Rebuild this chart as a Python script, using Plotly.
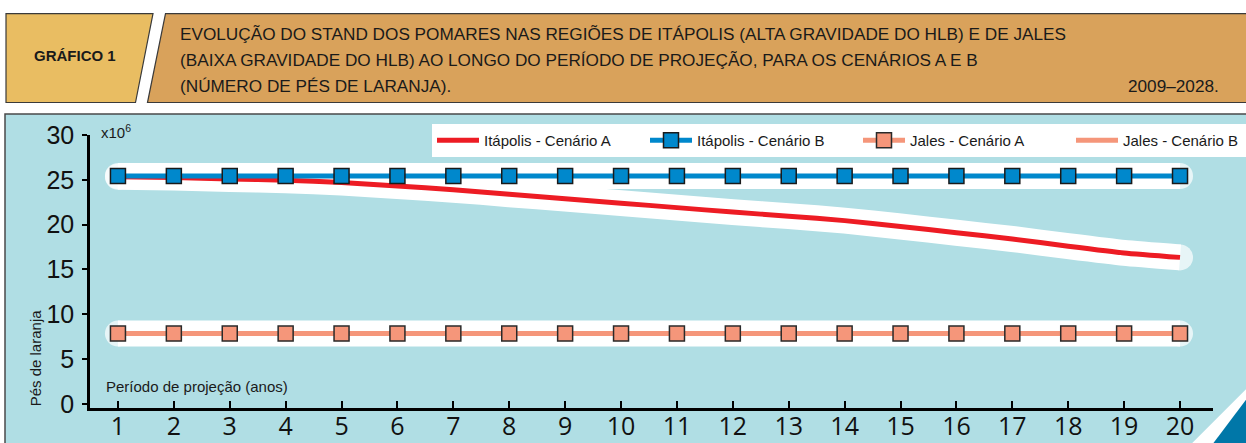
import plotly.graph_objects as go

# ---------------- data ----------------
periods = [1, 2, 3, 4, 5, 6, 7, 8, 9, 10, 11, 12, 13, 14, 15, 16, 17, 18, 19, 20]
itapolis_a = [25.35, 25.25, 25.1, 24.95, 24.7, 24.3, 23.9, 23.4, 22.9, 22.4,
              21.9, 21.4, 20.95, 20.45, 19.8, 19.1, 18.4, 17.6, 16.85, 16.35]
itapolis_b = [25.42, 25.42, 25.42, 25.42, 25.42, 25.42, 25.42, 25.42, 25.42, 25.42,
              25.42, 25.42, 25.42, 25.42, 25.42, 25.42, 25.42, 25.42, 25.42, 25.42]
jales_a = [7.85, 7.85, 7.85, 7.85, 7.85, 7.85, 7.85, 7.85, 7.85, 7.85,
           7.85, 7.85, 7.85, 7.85, 7.85, 7.85, 7.85, 7.85, 7.85, 7.85]
jales_b = [7.85, 7.85, 7.85, 7.85, 7.85, 7.85, 7.85, 7.85, 7.85, 7.85,
           7.85, 7.85, 7.85, 7.85, 7.85, 7.85, 7.85, 7.85, 7.85, 7.85]
y_ticks = [0, 5, 10, 15, 20, 25, 30]

names = ["Itápolis - Cenário A", "Itápolis - Cenário B", "Jales - Cenário A", "Jales - Cenário B"]

title_lines = [
    "EVOLUÇÃO DO STAND DOS POMARES NAS REGIÕES DE ITÁPOLIS (ALTA GRAVIDADE DO HLB) E DE JALES",
    "(BAIXA GRAVIDADE DO HLB) AO LONGO DO PERÍODO DE PROJEÇÃO, PARA OS CENÁRIOS A E B",
    "(NÚMERO DE PÉS DE LARANJA).",
]

# ---------------- layout geometry ----------------
W, H = 1246, 443
L, R, T, B = 90, 33, 134.5, 35.3
PW, PH = W - L - R, H - T - B


def px(x):
    return (x - L) / PW


def py(y):
    return (H - B - y) / PH


RED = "#ED1C24"
BLUE = "#0088CC"
SALMON = "#F5967A"
HALO = 26

fig = go.Figure()


def halo(yvals):
    sizes = [HALO] + [0] * (len(yvals) - 2) + [HALO]
    fig.add_trace(go.Scatter(
        x=periods, y=yvals, mode="lines+markers",
        line=dict(color="white", width=HALO, shape="spline", smoothing=0.5),
        marker=dict(size=sizes, color="white", line=dict(width=0)),
        showlegend=False, hoverinfo="skip"))


halo(itapolis_b)
halo(itapolis_a)
halo(jales_a)

fig.add_trace(go.Scatter(
    x=periods, y=itapolis_a, mode="lines", name=names[0], legendrank=1,
    line=dict(color=RED, width=5, shape="spline", smoothing=0.5)))
fig.add_trace(go.Scatter(
    x=periods, y=jales_b, mode="lines", name=names[3], legendrank=4,
    line=dict(color=SALMON, width=5)))
fig.add_trace(go.Scatter(
    x=periods, y=jales_a, mode="lines+markers", name=names[2], legendrank=3,
    line=dict(color=SALMON, width=5),
    marker=dict(symbol="square", size=15, color=SALMON, line=dict(color="#2a2a2a", width=1.5))))
fig.add_trace(go.Scatter(
    x=periods, y=itapolis_b, mode="lines+markers", name=names[1], legendrank=2,
    line=dict(color=BLUE, width=5),
    marker=dict(symbol="square", size=15, color=BLUE, line=dict(color="#1a1a1a", width=1.5))))

shapes = []
# panel background
shapes.append(dict(type="rect", xref="paper", yref="paper", layer="below",
                   x0=px(5), x1=px(1252), y0=py(446), y1=py(113.5),
                   fillcolor="#B0DEE4", line=dict(color="#4a4a4a", width=1.5)))
# bottom-right corner decoration
shapes.append(dict(type="path", xref="paper", yref="paper", layer="above",
                   path=f"M {px(1189)},{py(446)} L {px(1250)},{py(385)} L {px(1250)},{py(446)} Z",
                   fillcolor="white", line=dict(width=0)))
shapes.append(dict(type="path", xref="paper", yref="paper", layer="above",
                   path=f"M {px(1211)},{py(446)} L {px(1250)},{py(394)} L {px(1250)},{py(446)} Z",
                   fillcolor="#0077A8", line=dict(width=0)))
# header boxes
shapes.append(dict(type="path", xref="paper", yref="paper",
                   path=f"M {px(6)},{py(13)} L {px(153)},{py(13)} L {px(135.5)},{py(102)} L {px(6)},{py(102)} Z",
                   fillcolor="#E9BD62", line=dict(color="#3a3a3a", width=1.2)))
shapes.append(dict(type="path", xref="paper", yref="paper",
                   path=f"M {px(165.5)},{py(13)} L {px(1252)},{py(13)} L {px(1252)},{py(102)} L {px(147.5)},{py(102)} Z",
                   fillcolor="#D9A25B", line=dict(color="#3a3a3a", width=1.2)))

TITLE_FONT = dict(family="Liberation Sans, Arial, sans-serif", size=17.2, color="#1a1a1a")
LABEL_FONT = dict(family="Liberation Sans, Arial, sans-serif", size=15, color="#1a1a1a")

annotations = []
annotations.append(dict(xref="paper", yref="paper", x=px(75), y=py(55), text="<b>GRÁFICO 1</b>",
                        showarrow=False, xanchor="center", yanchor="middle",
                        font=dict(family="Liberation Sans, Arial, sans-serif", size=15, color="#1a1a1a")))
for i, line in enumerate(title_lines):
    annotations.append(dict(xref="paper", yref="paper", x=px(178), y=py(33 + 26 * i), text=line,
                            showarrow=False, xanchor="left", yanchor="middle", font=TITLE_FONT))
annotations.append(dict(xref="paper", yref="paper", x=px(1221), y=py(85), text="2009–2028.",
                        showarrow=False, xanchor="right", yanchor="middle", font=TITLE_FONT))
annotations.append(dict(xref="paper", yref="paper", x=px(99), y=py(131), text="x10<sup>6</sup>",
                        showarrow=False, xanchor="left", yanchor="middle", font=LABEL_FONT))
annotations.append(dict(xref="paper", yref="paper", x=px(104), y=py(386), text="Período de projeção (anos)",
                        showarrow=False, xanchor="left", yanchor="middle", font=LABEL_FONT))
annotations.append(dict(xref="paper", yref="paper", x=px(35), y=py(358), text="Pés de laranja",
                        showarrow=False, xanchor="center", yanchor="middle", textangle=-90,
                        font=LABEL_FONT))

fig.update_layout(
    width=W, height=H,
    margin=dict(l=L, r=R, t=T, b=B, pad=0, autoexpand=False),
    paper_bgcolor="white", plot_bgcolor="rgba(0,0,0,0)",
    shapes=shapes, annotations=annotations,
    showlegend=True,
    legend=dict(orientation="h", x=px(432), y=py(123.5), xanchor="left", yanchor="top",
                bgcolor="white", borderwidth=0, itemwidth=42, traceorder="normal",
                font=dict(family="Liberation Sans, Arial, sans-serif", size=15, color="#1a1a1a"),
                entrywidth=156),
    xaxis=dict(range=[0.5, 20.59], tickmode="array", tickvals=periods,
               ticktext=[str(p) for p in periods],
               showgrid=False, zeroline=False, showline=True, linecolor="black", linewidth=2.5,
               ticks="inside", ticklen=7, tickwidth=2, tickcolor="black",
               tickfont=dict(family="Open Sans, sans-serif", size=25, color="#111"),
               ticklabelstandoff=-6),
    yaxis=dict(range=[-0.45, 30], tickmode="array", tickvals=y_ticks,
               showgrid=False, zeroline=False, showline=True, linecolor="black", linewidth=2.5,
               ticks="outside", ticklen=5, tickwidth=2, tickcolor="black",
               tickfont=dict(family="Liberation Sans, Arial, sans-serif", size=25, color="#111"),
               ticklabelstandoff=3),
)

fig.write_html("out.html", config={"displayModeBar": False},
               post_script="document.body.style.margin='0px';")
